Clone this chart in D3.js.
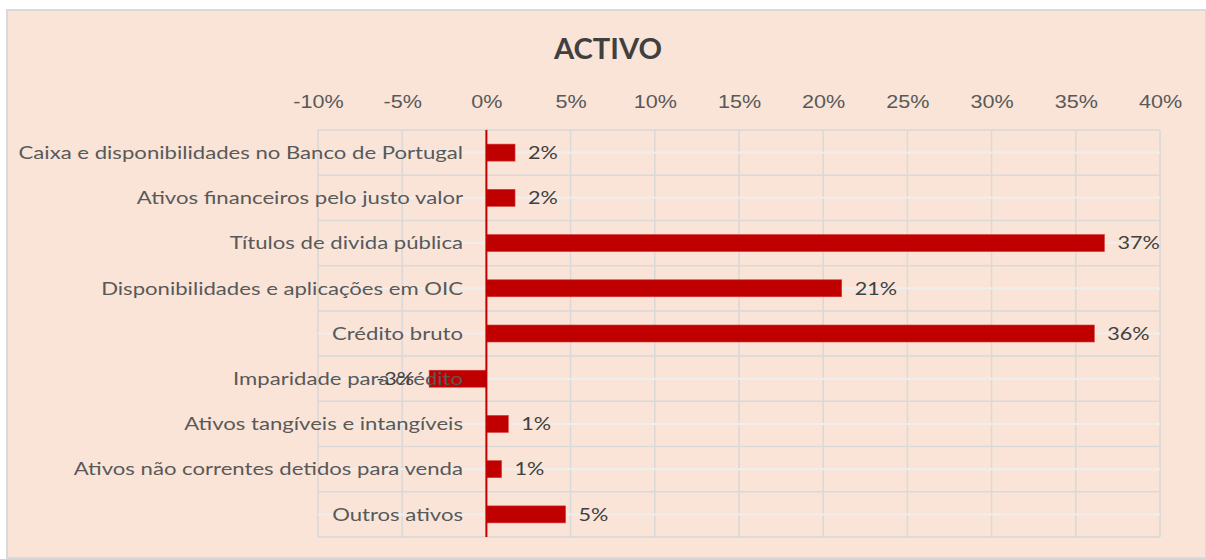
<!DOCTYPE html>
<html lang="pt">
<head>
<meta charset="UTF-8">
<title>ACTIVO</title>
<script src="https://d3js.org/d3.v7.min.js"></script>
<style>
  body { margin: 0; background: #fff; }
  svg { display: block; font-family: Lato, 'Open Sans', sans-serif; }
  .tick text { fill: #595959; font-size: 18px; }
  .cat { fill: #595959; font-size: 18px; }
  .val { fill: #404040; font-size: 18px; }
</style>
</head>
<body>
<svg></svg>
<script>
// data
const categories = [
  "Caixa e disponibilidades no Banco de Portugal",
  "Ativos financeiros pelo justo valor",
  "Títulos de divida pública",
  "Disponibilidades e aplicações em OIC",
  "Crédito bruto",
  "Imparidade para crédito",
  "Ativos tangíveis e intangíveis",
  "Ativos não correntes detidos para venda",
  "Outros ativos"
];
const values = [1.7, 1.7, 36.7, 21.1, 36.1, -3.4, 1.3, 0.9, 4.7];
const labels = ["2%", "2%", "37%", "21%", "36%", "-3%", "1%", "1%", "5%"];
const ticks = [-10, -5, 0, 5, 10, 15, 20, 25, 30, 35, 40];

const W = 1206, H = 559;
const plot = { left: 318, right: 1160, top: 130, bottom: 537 };
const stretch = 1.2; // the reference text is a bit wider than Lato

const svg = d3.select("svg").attr("width", W).attr("height", H);

// chart area
svg.append("rect")
  .attr("x", 7).attr("y", 10)
  .attr("width", W - 7).attr("height", H - 11)
  .attr("fill", "#FAE4D7")
  .attr("stroke", "#D9D9D9").attr("stroke-width", 2);

svg.append("text")
  .attr("transform", "translate(608,59) scale(1.04,1)")
  .attr("text-anchor", "middle")
  .attr("font-size", 28).attr("font-weight", "bold")
  .attr("fill", "#404040")
  .text("ACTIVO");

const x = d3.scaleLinear().domain([-10, 40]).range([plot.left, plot.right]);
const y = d3.scaleBand().domain(categories).range([plot.top, plot.bottom]);
const cy = c => y(c) + y.bandwidth() / 2;

// vertical gridlines
svg.append("g").selectAll("line")
  .data(ticks)
  .join("line")
  .attr("x1", d => x(d)).attr("x2", d => x(d))
  .attr("y1", plot.top).attr("y2", plot.bottom)
  .attr("stroke", "#D9D9D9").attr("stroke-width", 1.5);

// category boundary lines
const bounds = categories.map(c => y(c)).concat([plot.bottom]);
svg.append("g").selectAll("line")
  .data(bounds)
  .join("line")
  .attr("x1", plot.left).attr("x2", plot.right)
  .attr("y1", d => d).attr("y2", d => d)
  .attr("stroke", "#D9D9D9").attr("stroke-width", 1.5);

// whitish centre lines
svg.append("g").selectAll("line")
  .data(categories)
  .join("line")
  .attr("x1", plot.left).attr("x2", plot.right)
  .attr("y1", cy).attr("y2", cy)
  .attr("stroke", "#F0EEEC").attr("stroke-width", 2);

// top axis
const axis = svg.append("g")
  .attr("transform", `translate(0,${plot.top})`)
  .call(d3.axisTop(x).tickValues(ticks).tickFormat(d => d + "%").tickSize(0).tickPadding(22));
axis.select(".domain").remove();
axis.selectAll(".tick text").attr("transform", `scale(${stretch},1)`);

// bars
const barH = 17;
svg.append("g").selectAll("rect")
  .data(values)
  .join("rect")
  .attr("x", d => x(Math.min(0, d)))
  .attr("width", d => Math.abs(x(d) - x(0)))
  .attr("y", (d, i) => cy(categories[i]) - barH / 2)
  .attr("height", barH)
  .attr("fill", "#C00000")
  .attr("stroke", "#D43B3B").attr("stroke-width", 0.6);

// zero axis
svg.append("line")
  .attr("x1", x(0)).attr("x2", x(0))
  .attr("y1", plot.top).attr("y2", plot.bottom)
  .attr("stroke", "#C00000").attr("stroke-width", 2);

// category labels (drawn over the bars, as in the original)
svg.append("g").selectAll("text")
  .data(categories)
  .join("text")
  .attr("class", "cat")
  .attr("transform", d => `translate(463,${cy(d)}) scale(1.23,1)`)
  .attr("dy", "0.35em")
  .attr("text-anchor", "end")
  .text(d => d);

// value labels
svg.append("g").selectAll("text")
  .data(values)
  .join("text")
  .attr("class", "val")
  .attr("transform", (d, i) => `translate(${d >= 0 ? x(d) + 13 : x(d) - 15},${cy(categories[i])}) scale(${stretch},1)`)
  .attr("dy", "0.35em")
  .attr("text-anchor", d => d >= 0 ? "start" : "end")
  .text((d, i) => labels[i]);
</script>
</body>
</html>
